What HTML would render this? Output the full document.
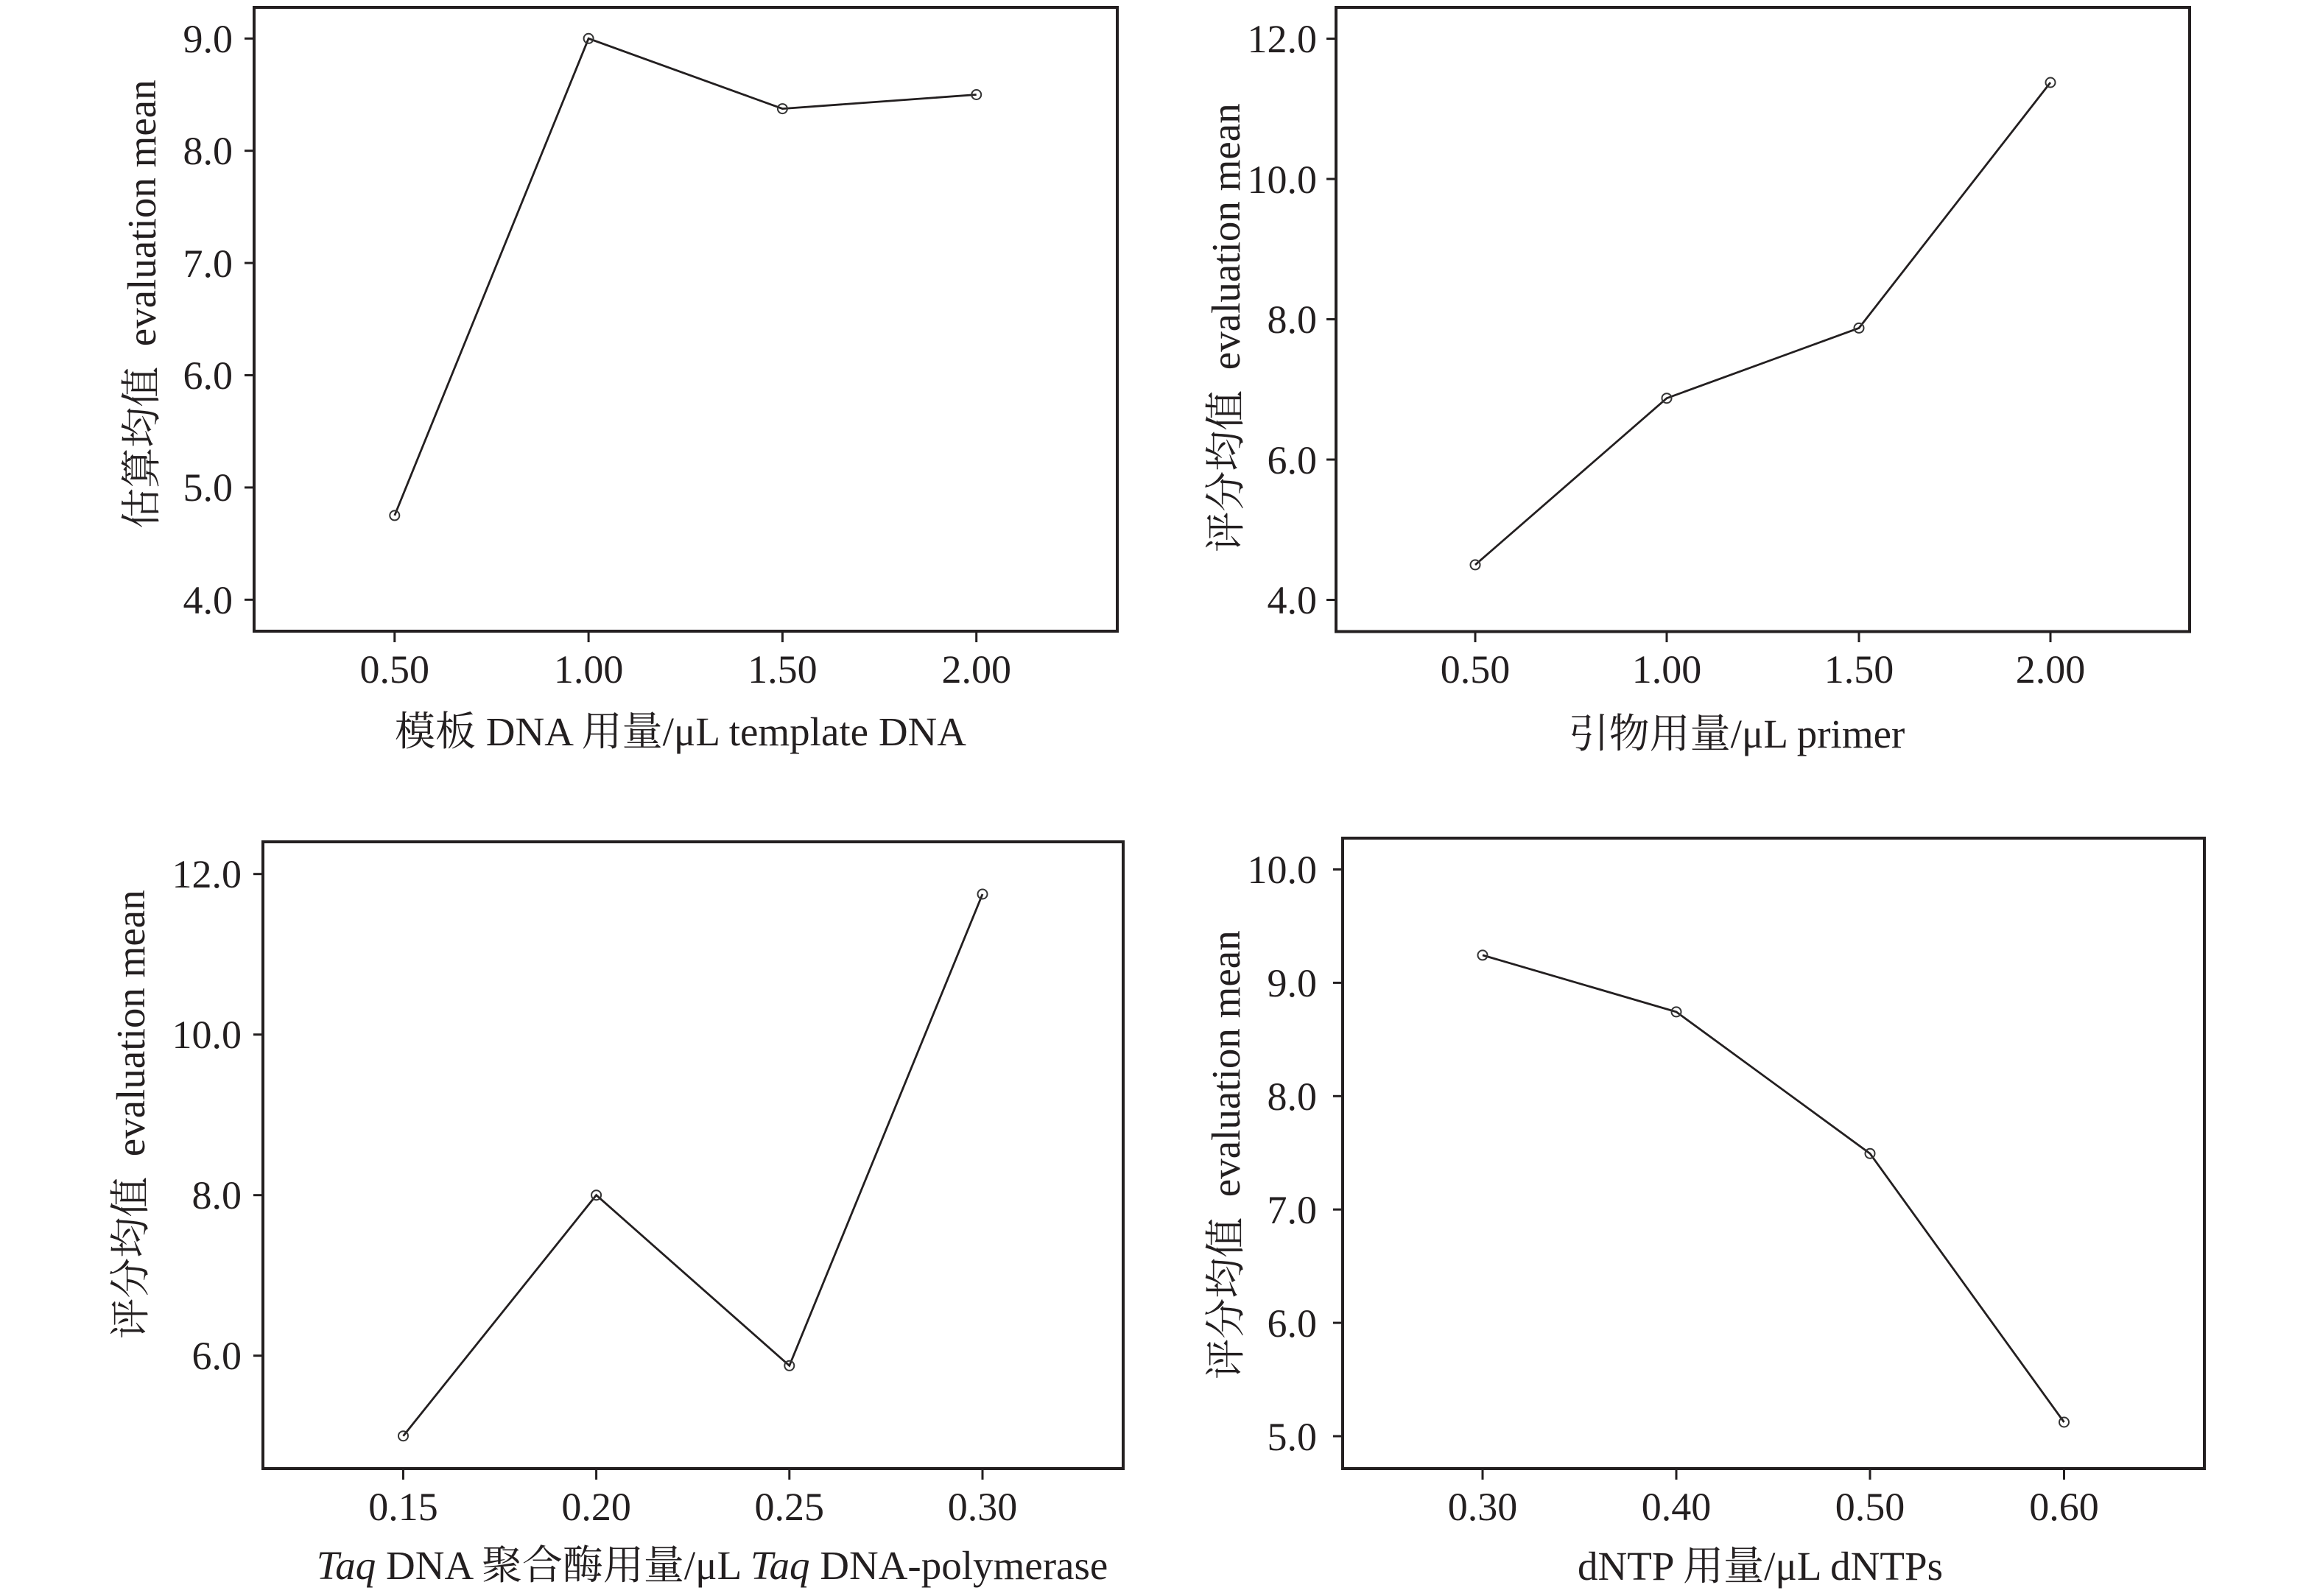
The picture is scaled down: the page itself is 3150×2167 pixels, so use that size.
<!DOCTYPE html>
<html><head><meta charset="utf-8"><style>
html,body{margin:0;padding:0;background:#fff;}
svg{display:block;}
text{font-family:"Liberation Serif","Noto Serif CJK SC",serif;fill:#231f20;}
.t{font-size:54px;}
.ti{font-size:55px;}
</style></head><body>
<svg width="3150" height="2167" viewBox="0 0 3150 2167" xmlns="http://www.w3.org/2000/svg">
<rect x="0" y="0" width="3150" height="2167" fill="#fff"/>
<g stroke="#231f20" fill="none">
<!-- Panel 1 -->
<rect x="345" y="10" width="1172" height="847" stroke-width="4"/>
<g stroke-width="3">
<line x1="332" y1="52.3" x2="345" y2="52.3"/><line x1="332" y1="204.7" x2="345" y2="204.7"/><line x1="332" y1="357.1" x2="345" y2="357.1"/><line x1="332" y1="509.5" x2="345" y2="509.5"/><line x1="332" y1="661.9" x2="345" y2="661.9"/><line x1="332" y1="814.3" x2="345" y2="814.3"/>
<line x1="535.8" y1="857" x2="535.8" y2="872"/><line x1="799.1" y1="857" x2="799.1" y2="872"/><line x1="1062.4" y1="857" x2="1062.4" y2="872"/><line x1="1325.7" y1="857" x2="1325.7" y2="872"/>
</g>
<polyline stroke-width="2.8" points="535.8,699.9 799.1,52.3 1062.4,147.6 1325.7,128.5"/>
<g stroke="#333" stroke-width="2"><circle cx="535.8" cy="699.9" r="6.5"/><circle cx="799.1" cy="52.3" r="6.5"/><circle cx="1062.4" cy="147.6" r="6.5"/><circle cx="1325.7" cy="128.5" r="6.5"/></g>

<!-- Panel 2 -->
<rect x="1814" y="10" width="1159" height="847.5" stroke-width="4"/>
<g stroke-width="3">
<line x1="1801" y1="52.5" x2="1814" y2="52.5"/><line x1="1801" y1="243" x2="1814" y2="243"/><line x1="1801" y1="433.5" x2="1814" y2="433.5"/><line x1="1801" y1="624" x2="1814" y2="624"/><line x1="1801" y1="814.5" x2="1814" y2="814.5"/>
<line x1="2003" y1="857.5" x2="2003" y2="872"/><line x1="2263" y1="857.5" x2="2263" y2="872"/><line x1="2524" y1="857.5" x2="2524" y2="872"/><line x1="2784" y1="857.5" x2="2784" y2="872"/>
</g>
<polyline stroke-width="2.8" points="2003,766.9 2263,540.7 2524,445.4 2784,112.0"/>
<g stroke="#333" stroke-width="2"><circle cx="2003" cy="766.9" r="6.5"/><circle cx="2263" cy="540.7" r="6.5"/><circle cx="2524" cy="445.4" r="6.5"/><circle cx="2784" cy="112.0" r="6.5"/></g>

<!-- Panel 3 -->
<rect x="357" y="1143" width="1168" height="851" stroke-width="4"/>
<g stroke-width="3">
<line x1="344" y1="1186.7" x2="357" y2="1186.7"/><line x1="344" y1="1404.7" x2="357" y2="1404.7"/><line x1="344" y1="1622.7" x2="357" y2="1622.7"/><line x1="344" y1="1840.7" x2="357" y2="1840.7"/>
<line x1="547.5" y1="1994" x2="547.5" y2="2009"/><line x1="809.6" y1="1994" x2="809.6" y2="2009"/><line x1="1071.8" y1="1994" x2="1071.8" y2="2009"/><line x1="1334" y1="1994" x2="1334" y2="2009"/>
</g>
<polyline stroke-width="2.8" points="547.5,1949.7 809.6,1622.7 1071.8,1854.3 1334,1214.0"/>
<g stroke="#333" stroke-width="2"><circle cx="547.5" cy="1949.7" r="6.5"/><circle cx="809.6" cy="1622.7" r="6.5"/><circle cx="1071.8" cy="1854.3" r="6.5"/><circle cx="1334" cy="1214.0" r="6.5"/></g>

<!-- Panel 4 -->
<rect x="1823" y="1138" width="1170" height="856" stroke-width="4"/>
<g stroke-width="3">
<line x1="1810" y1="1180.5" x2="1823" y2="1180.5"/><line x1="1810" y1="1334.4" x2="1823" y2="1334.4"/><line x1="1810" y1="1488.3" x2="1823" y2="1488.3"/><line x1="1810" y1="1642.2" x2="1823" y2="1642.2"/><line x1="1810" y1="1796.1" x2="1823" y2="1796.1"/><line x1="1810" y1="1950" x2="1823" y2="1950"/>
<line x1="2013" y1="1994" x2="2013" y2="2009"/><line x1="2276" y1="1994" x2="2276" y2="2009"/><line x1="2539" y1="1994" x2="2539" y2="2009"/><line x1="2802.5" y1="1994" x2="2802.5" y2="2009"/>
</g>
<polyline stroke-width="2.8" points="2013,1296.9 2276,1373.9 2539,1566.2 2802.5,1931.0"/>
<g stroke="#333" stroke-width="2"><circle cx="2013" cy="1296.9" r="6.5"/><circle cx="2276" cy="1373.9" r="6.5"/><circle cx="2539" cy="1566.2" r="6.5"/><circle cx="2802.5" cy="1931.0" r="6.5"/></g>
</g>

<!-- Panel 1 text -->
<g class="t" text-anchor="end">
<text x="316" y="71">9.0</text><text x="316" y="223">8.0</text><text x="316" y="376">7.0</text><text x="316" y="528">6.0</text><text x="316" y="680">5.0</text><text x="316" y="833">4.0</text>
</g>
<g class="t" text-anchor="middle">
<text x="535.8" y="927">0.50</text><text x="799.1" y="927">1.00</text><text x="1062.4" y="927">1.50</text><text x="1325.7" y="927">2.00</text>
</g>
<text class="ti" text-anchor="middle" x="924" y="1012" xml:space="preserve">模板 DNA 用量/μL template DNA</text>
<text class="ti" text-anchor="middle" transform="translate(211,413) rotate(-90)" xml:space="preserve">估算均值  evaluation mean</text>

<!-- Panel 2 text -->
<g class="t" text-anchor="end">
<text x="1788" y="71">12.0</text><text x="1788" y="262">10.0</text><text x="1788" y="452">8.0</text><text x="1788" y="643">6.0</text><text x="1788" y="833">4.0</text>
</g>
<g class="t" text-anchor="middle">
<text x="2003" y="927">0.50</text><text x="2263" y="927">1.00</text><text x="2524" y="927">1.50</text><text x="2784" y="927">2.00</text>
</g>
<text class="ti" text-anchor="middle" x="2358" y="1015" xml:space="preserve">引物用量/μL primer</text>
<text class="ti" text-anchor="middle" transform="translate(1683,445) rotate(-90)" xml:space="preserve">评分均值  evaluation mean</text>

<!-- Panel 3 text -->
<g class="t" text-anchor="end">
<text x="328" y="1205">12.0</text><text x="328" y="1423">10.0</text><text x="328" y="1641">8.0</text><text x="328" y="1859">6.0</text>
</g>
<g class="t" text-anchor="middle">
<text x="547.5" y="2064">0.15</text><text x="809.6" y="2064">0.20</text><text x="1071.8" y="2064">0.25</text><text x="1334" y="2064">0.30</text>
</g>
<text class="ti" text-anchor="middle" x="967" y="2144" xml:space="preserve"><tspan font-style="italic">Taq</tspan> DNA 聚合酶用量/μL <tspan font-style="italic">Taq</tspan> DNA-polymerase</text>
<text class="ti" text-anchor="middle" transform="translate(196,1513) rotate(-90)" xml:space="preserve">评分均值  evaluation mean</text>

<!-- Panel 4 text -->
<g class="t" text-anchor="end">
<text x="1788" y="1199">10.0</text><text x="1788" y="1353">9.0</text><text x="1788" y="1507">8.0</text><text x="1788" y="1661">7.0</text><text x="1788" y="1815">6.0</text><text x="1788" y="1969">5.0</text>
</g>
<g class="t" text-anchor="middle">
<text x="2013" y="2064">0.30</text><text x="2276" y="2064">0.40</text><text x="2539" y="2064">0.50</text><text x="2802.5" y="2064">0.60</text>
</g>
<text class="ti" text-anchor="middle" x="2390" y="2145" xml:space="preserve">dNTP 用量/μL dNTPs</text>
<text class="ti" text-anchor="middle" transform="translate(1683,1568) rotate(-90)" xml:space="preserve">评分均值  evaluation mean</text>
</svg>
</body></html>
